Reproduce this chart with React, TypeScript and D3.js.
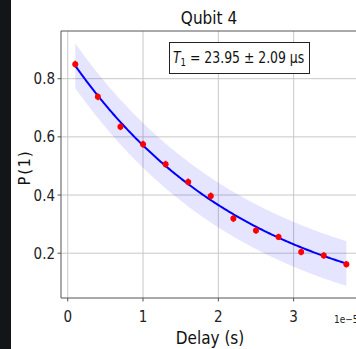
import React from "react";
import * as d3 from "d3";

const delays = [0.1, 0.4, 0.7, 1.0, 1.3, 1.6, 1.9, 2.2, 2.5, 2.8, 3.1, 3.4, 3.7];
const probs = [0.85, 0.738, 0.635, 0.575, 0.506, 0.445, 0.397, 0.319, 0.278, 0.256, 0.204, 0.192, 0.162];
const probErr = [0.012, 0.012, 0.012, 0.012, 0.012, 0.012, 0.012, 0.012, 0.011, 0.011, 0.011, 0.011, 0.011];
const fitA = 0.912;
const fitT1 = 2.395;
const fitB = -0.03;
const bandHalf = 0.077;
const xTicks = [0, 1, 2, 3];
const yTicks = [0.2, 0.4, 0.6, 0.8];

const W = 356;
const H = 349;
const FONT = "'DejaVu Sans', sans-serif";

export default function App() {
  const x = d3.scaleLinear().domain([-0.08, 3.88]).range([61.7, 359.9]);
  const y = d3.scaleLinear().domain([0.046, 0.964]).range([298, 31]);
  const left = 61;
  const top = 31;
  const bottom = 298;
  const right = 359.9;

  const ts = d3.range(0, 201).map((i) => delays[0] + (i / 200) * (delays[delays.length - 1] - delays[0]));
  const fit = (t: number) => fitA * Math.exp(-t / fitT1) + fitB;
  const line = d3.line<number>().x((t) => x(t)).y((t) => y(fit(t)));
  const area = d3
    .area<number>()
    .x((t) => x(t))
    .y0((t) => y(fit(t) - bandHalf))
    .y1((t) => y(fit(t) + bandHalf));

  const cond: React.CSSProperties = { fontStretch: "condensed" };

  return (
    <svg width={W} height={H} style={{ position: "absolute", left: 0, top: 0, background: "#fff" }}>
      <rect x={0} y={0} width={W} height={H} fill="#ffffff" />
      <rect x={0} y={0} width={11} height={H} fill="#121619" />
      {/* grid */}
      {xTicks.map((t) => (
        <line key={"gx" + t} x1={x(t)} x2={x(t)} y1={top} y2={bottom} stroke="#c8c8c8" strokeWidth={1} />
      ))}
      {yTicks.map((t) => (
        <line key={"gy" + t} x1={left} x2={right} y1={y(t)} y2={y(t)} stroke="#c8c8c8" strokeWidth={1} />
      ))}
      {/* band */}
      <path d={area(ts) || ""} fill="#0000ff" fillOpacity={0.1} />
      {/* fit */}
      <path d={line(ts) || ""} fill="none" stroke="#0000ff" strokeWidth={2} />
      {/* points */}
      {delays.map((t, i) => (
        <g key={"p" + i}>
          <line x1={x(t)} x2={x(t)} y1={y(probs[i] - probErr[i])} y2={y(probs[i] + probErr[i])} stroke="#ff0000" strokeWidth={1.5} />
          <circle cx={x(t)} cy={y(probs[i])} r={3} fill="#ff0000" />
        </g>
      ))}
      {/* spines */}
      <line x1={left} x2={left} y1={top} y2={bottom} stroke="#555" strokeWidth={1} />
      <line x1={left} x2={right} y1={bottom} y2={bottom} stroke="#555" strokeWidth={1} />
      <line x1={left} x2={right} y1={top} y2={top} stroke="#555" strokeWidth={1} />
      {/* ticks */}
      {xTicks.map((t) => (
        <g key={"tx" + t}>
          <line x1={x(t)} x2={x(t)} y1={bottom} y2={bottom + 3.5} stroke="#555" />
          <text x={x(t)} y={322} textAnchor="middle" fontSize={15} fontFamily={FONT} style={cond} fill="#222">
            {t}
          </text>
        </g>
      ))}
      {yTicks.map((t) => (
        <g key={"ty" + t}>
          <line x1={left - 3.5} x2={left} y1={y(t)} y2={y(t)} stroke="#555" />
          <text x={55} y={y(t) + 5.5} textAnchor="end" fontSize={15} fontFamily={FONT} style={cond} fill="#222">
            {t.toFixed(1)}
          </text>
        </g>
      ))}
      {/* title */}
      <text x={209} y={23.5} textAnchor="middle" fontSize={17} fontFamily={FONT} style={cond} fill="#111">
        Qubit 4
      </text>
      {/* x label */}
      <text x={210} y={344} textAnchor="middle" fontSize={17} fontFamily={FONT} style={cond} fill="#111">
        Delay (s)
      </text>
      <text x={334} y={323} fontSize={10} fontFamily={FONT} style={cond} fill="#222">
        1e−5
      </text>
      {/* y label */}
      <text
        transform="translate(30,167.5) rotate(-90)"
        textAnchor="middle"
        fontSize={15}
        fontFamily="'DejaVu Sans Mono', monospace"
        fill="#111"
      >
        P(1)
      </text>
      {/* legend box */}
      <rect x={169.5} y={42.5} width={140} height={31} fill="#fff" stroke="#222" strokeWidth={1} />
      <text transform="translate(173,63) scale(0.91,1)" fontSize={15.2} fontFamily={FONT} style={cond} fill="#111">
        <tspan fontStyle="italic">T</tspan>
        <tspan fontSize={10.5} dy={3}>1</tspan>
        <tspan dy={-3}> = 23.95 ± 2.09 µs</tspan>
      </text>
    </svg>
  );
}
